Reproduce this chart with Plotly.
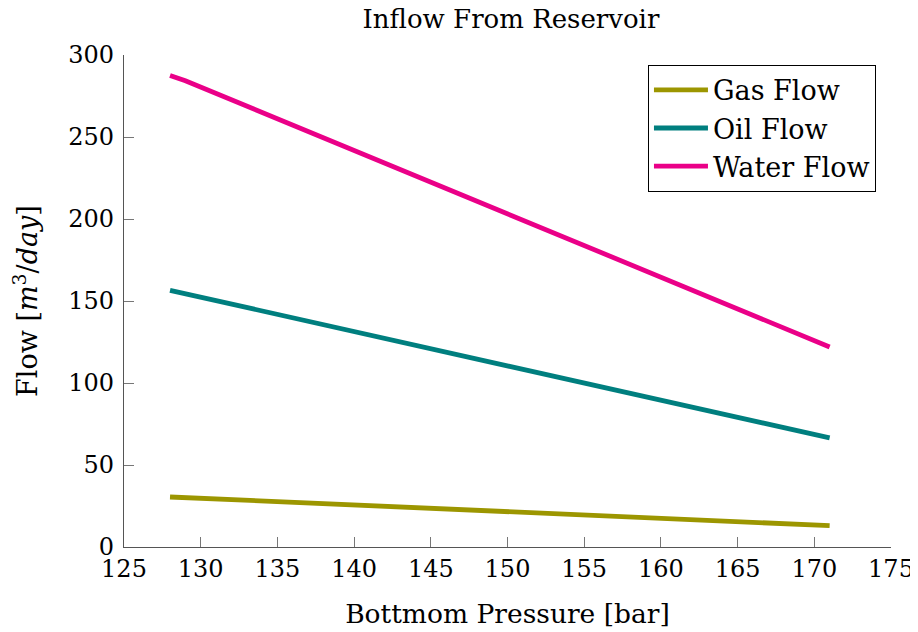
import plotly.graph_objects as go

pressure = [128, 129, 171]
gas_flow = [30.5, 30.1, 13.0]
oil_flow = [156.5, 154.4, 66.5]
water_flow = [287.5, 284.3, 122.0]

x_ticks = [125, 130, 135, 140, 145, 150, 155, 160, 165, 170, 175]
y_ticks = [0, 50, 100, 150, 200, 250, 300]

font_family = "DejaVu Serif, Liberation Serif, serif"

fig = go.Figure()
fig.add_trace(go.Scatter(x=pressure, y=gas_flow, mode="lines", name="Gas Flow",
                         line=dict(color="#9c9600", width=4.8)))
fig.add_trace(go.Scatter(x=pressure, y=oil_flow, mode="lines", name="Oil Flow",
                         line=dict(color="#007f7f", width=4.8)))
fig.add_trace(go.Scatter(x=pressure, y=water_flow, mode="lines", name="Water Flow",
                         line=dict(color="#ea0088", width=4.8)))

axis_common = dict(showgrid=False, zeroline=False, showline=True, linecolor="#555555",
                   linewidth=1.3, ticks="inside", ticklen=10, tickcolor="#777777",
                   tickwidth=1, tickfont=dict(size=24, color="black", family=font_family),
                   mirror=False, automargin=False)

fig.update_layout(
    width=910, height=624,
    paper_bgcolor="white", plot_bgcolor="white",
    margin=dict(l=116, r=27, t=47, b=85),
    font=dict(family=font_family, color="black"),
    title=dict(text="Inflow From Reservoir", x=0.5527, xanchor="center", y=0.982, yanchor="middle",
               font=dict(size=26, family=font_family)),
    xaxis=dict(range=[125, 175], tickvals=x_ticks,
               title=dict(text="Bottmom Pressure [bar]", font=dict(size=26.5), standoff=22),
               **axis_common),
    yaxis=dict(range=[0, 300], tickvals=y_ticks, ticklabelstandoff=4,
               title=dict(text="Flow [<i>m</i><sup>3</sup>/<i>day</i>]", font=dict(size=27), standoff=22),
               **axis_common),
    legend=dict(x=0.9804, y=0.98, xanchor="right", yanchor="top", bgcolor="white",
                bordercolor="black", borderwidth=1, font=dict(size=27, family=font_family),
                tracegroupgap=0, itemwidth=54),
    showlegend=True,
)

fig.write_html("out.html")
